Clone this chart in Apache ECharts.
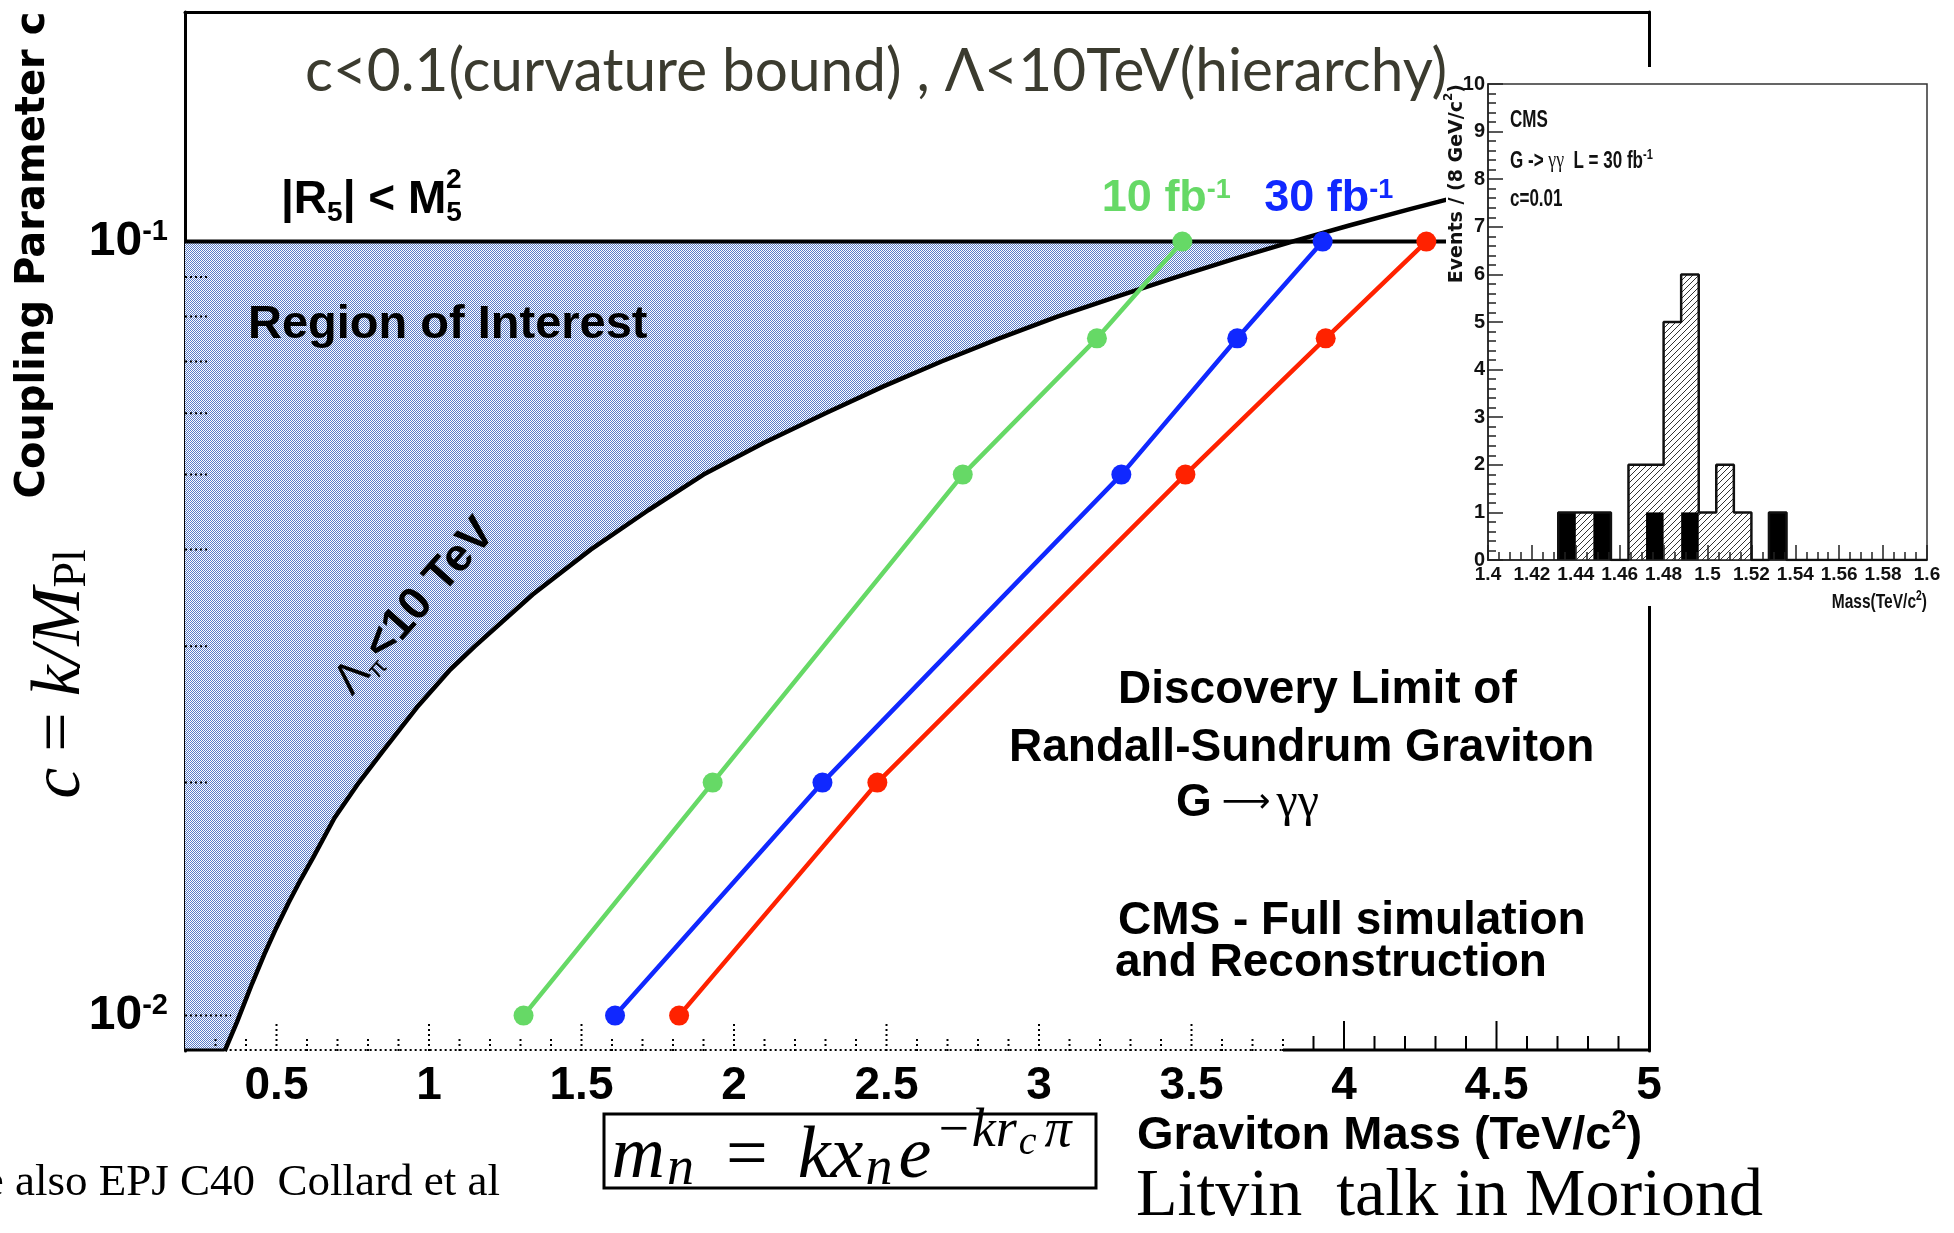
<!DOCTYPE html>
<html>
<head>
<meta charset="utf-8">
<script src="https://cdn.jsdelivr.net/npm/echarts@6/dist/echarts.min.js"></script>
<style>
  html, body { margin: 0; padding: 0; background: #fff; }
  #chart { width: 1954px; height: 1233px; }
</style>
</head>
<body>
<div id="chart"></div>
<script>
// ---- Discovery reach for G -> gamma gamma (graviton mass in TeV vs coupling c) ----
const couplingPoints = [0.01, 0.02, 0.05, 0.075, 0.1];
const massReach10 = [1.31, 1.93, 2.75, 3.19, 3.47];
const massReach30 = [1.61, 2.29, 3.27, 3.65, 3.93];
const massReach60 = [1.82, 2.47, 3.48, 3.94, 4.27];
const lumiNames = ['10 fb', '30 fb', ''];

// Lambda_pi < 10 TeV boundary
const lambdaMass = [0.33, 0.37, 0.42, 0.46, 0.50, 0.54, 0.58, 0.62, 0.69, 0.77, 0.85, 0.96, 1.07, 1.15, 1.34, 1.53,
                    1.72, 1.90, 2.10, 2.30, 2.49, 2.68, 2.87, 3.06, 3.26, 3.45, 3.64, 3.83, 4.02, 4.21, 4.40];
const lambdaC    = [0.009, 0.0098, 0.011, 0.012, 0.013, 0.014, 0.015, 0.016, 0.018, 0.020, 0.022, 0.025, 0.028, 0.030, 0.035, 0.040,
                    0.045, 0.050, 0.055, 0.060, 0.065, 0.070, 0.075, 0.080, 0.085, 0.090, 0.095, 0.100, 0.105, 0.110, 0.115];
const curvatureBound = 0.1;

// main axes
const massRange = [0.2, 5];
const couplingRange = [0.009, 0.198];
const massLabels = [0.5, 1, 1.5, 2, 2.5, 3, 3.5, 4, 4.5, 5];
const massMinor = [0.3, 0.4, 0.6, 0.7, 0.8, 0.9, 1.1, 1.2, 1.3, 1.4, 1.6, 1.7, 1.8, 1.9, 2.1, 2.2, 2.3, 2.4,
                   2.6, 2.7, 2.8, 2.9, 3.1, 3.2, 3.3, 3.4, 3.6, 3.7, 3.8, 3.9, 4.1, 4.2, 4.3, 4.4, 4.6, 4.7, 4.8, 4.9];
const couplingMajor = [0.01, 0.1];
const couplingMinor = [0.02, 0.03, 0.04, 0.05, 0.06, 0.07, 0.08, 0.09];

// inset: reconstructed diphoton mass, 8 GeV bins starting at 1.4 TeV
const binStart = 1.4;
const binWidth = 0.008;
const totalCounts      = [0, 0, 0, 0, 1, 1, 1, 0, 2, 2, 5, 6, 1, 2, 1, 0, 1, 0, 0, 0, 0, 0, 0, 0, 0];
const backgroundCounts = [0, 0, 0, 0, 1, 0, 1, 0, 0, 1, 0, 1, 0, 0, 0, 0, 1, 0, 0, 0, 0, 0, 0, 0, 0];
const insetMassRange = [1.4, 1.6];
const insetEventRange = [0, 10];

// ---- styling ----
const ROOT = "'Liberation Sans', Arial, sans-serif";
const WIDE = "'DejaVu Sans', 'Liberation Sans', sans-serif";
const SERIF = "'Liberation Serif', 'DejaVu Serif', serif";
const lumiColors = ['#66d966', '#1028ff', '#ff2200'];
const labelShift = [-16, 6, 0];
const DOT = [2, 3];
const dottedUntil = 3.8;      // bottom axis is dotted up to here
const solidBottomEnd = 0.33;  // short solid piece at the left corner
const NARROW_X = 0.74;        // horizontal squeeze for the condensed inset lettering

function makeChecker() {
  const c = document.createElement('canvas');
  c.width = 2; c.height = 2;
  const g = c.getContext('2d');
  g.fillStyle = '#ffffff'; g.fillRect(0, 0, 2, 2);
  g.fillStyle = '#5a7cc8'; g.fillRect(0, 0, 1, 1); g.fillRect(1, 1, 1, 1);
  return { image: c, repeat: 'repeat' };
}
function makeHatch() {
  const s = 6;
  const c = document.createElement('canvas');
  c.width = s; c.height = s;
  const g = c.getContext('2d');
  g.fillStyle = '#ffffff'; g.fillRect(0, 0, s, s);
  g.strokeStyle = '#333'; g.lineWidth = 1;
  g.beginPath();
  g.moveTo(0, s); g.lineTo(s, 0);
  g.moveTo(-s / 2, s / 2); g.lineTo(s / 2, -s / 2);
  g.moveTo(s / 2, s * 1.5); g.lineTo(s * 1.5, s / 2);
  g.stroke();
  return { image: c, repeat: 'repeat' };
}
const checker = makeChecker();
const hatch = makeHatch();

const chart = echarts.init(document.getElementById('chart'), null, { renderer: 'canvas', width: 1954, height: 1233 });

// discovery curves
const reachSets = [massReach10, massReach30, massReach60];
const reachSeries = reachSets.map((masses, k) => ({
  type: 'line',
  xAxisIndex: 0, yAxisIndex: 0,
  z: 6,
  silent: true,
  symbol: 'circle',
  symbolSize: 20,
  color: lumiColors[k],
  lineStyle: { color: lumiColors[k], width: 4.5 },
  data: masses.map((m, i) => {
    const item = { value: [m, couplingPoints[i]] };
    if (i === masses.length - 1 && lumiNames[k]) {
      item.label = {
        show: true, position: 'top', distance: 11, offset: [labelShift[k], 0],
        formatter: '{n|' + lumiNames[k] + '}{s|-1}',
        rich: {
          n: { fontFamily: ROOT, fontWeight: 'bold', fontSize: 45, lineHeight: 44, color: lumiColors[k] },
          s: { fontFamily: ROOT, fontWeight: 'bold', fontSize: 27, lineHeight: 22, verticalAlign: 'top', color: lumiColors[k] }
        }
      };
    }
    return item;
  })
}));

// ticks drawn inside the main frame
function tickSeries(values, horizontal, len, dottedLimit) {
  return {
    type: 'custom', xAxisIndex: 0, yAxisIndex: 0, z: 3, silent: true,
    data: values.map(v => horizontal ? [massRange[0], v] : [v, couplingRange[0]]),
    renderItem: (params, api) => {
      const p = api.coord([api.value(0), api.value(1)]);
      const v = horizontal ? api.value(1) : api.value(0);
      const dotted = dottedLimit === undefined ? true : v <= dottedLimit + 1e-9;
      return {
        type: 'line',
        shape: horizontal ? { x1: p[0], y1: p[1], x2: p[0] + len, y2: p[1] }
                          : { x1: p[0], y1: p[1], x2: p[0], y2: p[1] - len },
        style: { stroke: '#000', lineWidth: 2, lineDash: dotted ? DOT : null }
      };
    }
  };
}

function histSeries(counts, fill, z) {
  return {
    type: 'custom', xAxisIndex: 2, yAxisIndex: 2, z: z, silent: true,
    encode: { x: [0, 1], y: 2 },
    data: counts.map((n, k) => [binStart + k * binWidth, binStart + (k + 1) * binWidth, n]),
    renderItem: (params, api) => {
      const n = api.value(2);
      if (!n) return;
      const p0 = api.coord([api.value(0), n]);
      const p1 = api.coord([api.value(1), 0]);
      return { type: 'rect', shape: { x: p0[0], y: p0[1], width: p1[0] - p0[0], height: p1[1] - p0[1] }, style: { fill: fill } };
    }
  };
}

const option = {
  animation: false,
  backgroundColor: '#ffffff',
  grid: [
    { left: 185, top: 12, width: 1464, height: 1039 },
    { left: 1488, top: 84, width: 439, height: 476, show: true, z: 110,
      backgroundColor: '#ffffff', borderColor: '#333', borderWidth: 1.5 }
  ],
  xAxis: [
    { gridIndex: 0, type: 'value', min: massRange[0], max: massRange[1],
      axisLine: { show: false }, axisTick: { show: false }, splitLine: { show: false },
      axisLabel: { customValues: massLabels, formatter: v => String(v), margin: 12,
        fontFamily: ROOT, fontWeight: 'bold', fontSize: 46, color: '#000' } },
    { gridIndex: 0, type: 'value', position: 'top', min: massRange[0], max: massRange[1],
      axisLine: { show: true, onZero: false, lineStyle: { color: '#000', width: 3 } },
      axisTick: { show: false }, axisLabel: { show: false }, splitLine: { show: false } },
    { gridIndex: 1, type: 'value', min: insetMassRange[0], max: insetMassRange[1], interval: 0.02, z: 112,
      axisLine: { show: true, onZero: false, lineStyle: { color: '#222', width: 1.5 } },
      axisTick: { show: true, inside: true, length: 15, lineStyle: { color: '#222', width: 1.5 } },
      minorTick: { show: true, splitNumber: 4, length: 8, lineStyle: { color: '#222', width: 1.5 } },
      splitLine: { show: false },
      axisLabel: { formatter: v => String(+v.toFixed(2)), margin: 5, fontFamily: ROOT, fontWeight: 'bold', fontSize: 19, color: '#111' } }
  ],
  yAxis: [
    { gridIndex: 0, type: 'log', min: couplingRange[0], max: couplingRange[1],
      axisLine: { show: true, onZero: false, lineStyle: { color: '#000', width: 3 } },
      axisTick: { show: false }, splitLine: { show: false }, minorTick: { show: false },
      axisLabel: {
        margin: 17,
        formatter: v => {
          const e = Math.log10(v), r = Math.round(e);
          return Math.abs(e - r) < 1e-6 ? '{b|10}{s|' + r + '}' : '';
        },
        rich: {
          b: { fontFamily: ROOT, fontWeight: 'bold', fontSize: 48, lineHeight: 48, color: '#000' },
          s: { fontFamily: ROOT, fontWeight: 'bold', fontSize: 29, lineHeight: 24, verticalAlign: 'top', color: '#000' }
        }
      } },
    { gridIndex: 0, type: 'value', position: 'right', min: 0, max: 1,
      axisLine: { show: true, onZero: false, lineStyle: { color: '#000', width: 3 } },
      axisTick: { show: false }, axisLabel: { show: false }, splitLine: { show: false } },
    { gridIndex: 1, type: 'value', min: insetEventRange[0], max: insetEventRange[1], interval: 1, z: 112,
      axisLine: { show: true, onZero: false, lineStyle: { color: '#222', width: 1.5 } },
      axisTick: { show: true, inside: true, length: 15, lineStyle: { color: '#222', width: 1.5 } },
      minorTick: { show: true, splitNumber: 5, length: 8, lineStyle: { color: '#222', width: 1.5 } },
      splitLine: { show: false },
      axisLabel: { margin: 3, fontFamily: ROOT, fontWeight: 'bold', fontSize: 20, color: '#111' } }
  ],
  series: [
    // shaded region of interest: left of the Lambda boundary and below the curvature bound
    {
      type: 'custom', xAxisIndex: 0, yAxisIndex: 0, z: 1, silent: true,
      data: [[lambdaMass[0], lambdaC[0]]],
      renderItem: (params, api) => {
        const pts = [api.coord([massRange[0], couplingRange[0]])];
        lambdaMass.forEach((m, i) => { if (lambdaC[i] <= curvatureBound) pts.push(api.coord([m, lambdaC[i]])); });
        pts.push(api.coord([massRange[0], curvatureBound]));
        return { type: 'polygon', shape: { points: pts }, style: { fill: checker } };
      }
    },
    // bottom frame edge: solid corner, dotted middle, solid right part
    {
      type: 'custom', xAxisIndex: 0, yAxisIndex: 0, z: 3, silent: true,
      data: [[massRange[0], couplingRange[0]]],
      renderItem: (params, api) => {
        const a = api.coord([massRange[0], couplingRange[0]]);
        const b = api.coord([solidBottomEnd, couplingRange[0]]);
        const c = api.coord([dottedUntil, couplingRange[0]]);
        const d = api.coord([massRange[1], couplingRange[0]]);
        const y = a[1] - 1;
        return { type: 'group', children: [
          { type: 'line', shape: { x1: a[0], y1: y, x2: b[0], y2: y }, style: { stroke: '#000', lineWidth: 3 } },
          { type: 'line', shape: { x1: b[0], y1: y, x2: c[0], y2: y }, style: { stroke: '#000', lineWidth: 2, lineDash: DOT } },
          { type: 'line', shape: { x1: c[0], y1: y, x2: d[0] + 1.5, y2: y }, style: { stroke: '#000', lineWidth: 3 } }
        ] };
      }
    },
    tickSeries(couplingMajor, true, 46),
    tickSeries(couplingMinor, true, 25),
    tickSeries(massLabels, false, 30, dottedUntil),
    tickSeries(massMinor, false, 15, dottedUntil),
    {
      type: 'line', xAxisIndex: 0, yAxisIndex: 0, z: 4, silent: true, symbol: 'none',
      lineStyle: { color: '#000', width: 4.5 },
      data: lambdaMass.map((m, i) => [m, lambdaC[i]])
    },
    {
      type: 'line', xAxisIndex: 0, yAxisIndex: 0, z: 4, silent: true, symbol: 'none',
      lineStyle: { color: '#000', width: 4 },
      data: [[massRange[0], curvatureBound], [massRange[1], curvatureBound]]
    },
    ...reachSeries,
    // inset: total (hatched) and background (black) histograms
    histSeries(totalCounts, hatch, 111),
    histSeries(backgroundCounts, '#000', 112),
    {
      type: 'line', xAxisIndex: 2, yAxisIndex: 2, z: 113, silent: true, symbol: 'none', step: 'end',
      lineStyle: { color: '#111', width: 2.5 },
      data: (() => {
        const first = totalCounts.findIndex(n => n > 0);
        const pts = [[binStart + first * binWidth, 0]];
        for (let k = first; k < totalCounts.length; k++) pts.push([binStart + k * binWidth, totalCounts[k]]);
        pts.push([binStart + totalCounts.length * binWidth, 0]);
        return pts;
      })()
    }
  ],
  graphic: [
    { type: 'text', x: 305, y: 72, z: 20, scaleX: 0.975, style: { text: 'c<0.1(curvature bound) , Λ<10TeV(hierarchy)',
      font: 'normal 60px Lato, "Open Sans", sans-serif', fill: '#3b3b2f', align: 'left', verticalAlign: 'middle' } },
    { type: 'text', x: 281, y: 202, z: 20, style: {
      text: '{b||R}{sb|5}{b|| < M}{sb|5}', align: 'left', verticalAlign: 'middle',
      rich: {
        b: { fontFamily: ROOT, fontWeight: 'bold', fontSize: 46, lineHeight: 50, verticalAlign: 'top', fill: '#000' },
        sb: { fontFamily: ROOT, fontWeight: 'bold', fontSize: 28, lineHeight: 28, verticalAlign: 'bottom', fill: '#000' }
      } } },
    { type: 'text', x: 446, y: 180, z: 20, style: { text: '2', font: 'bold 28px ' + ROOT, fill: '#000', align: 'left', verticalAlign: 'middle' } },
    { type: 'text', x: 248, y: 325, z: 20, style: { text: 'Region of Interest', font: 'bold 47px ' + ROOT, fill: '#000', align: 'left', verticalAlign: 'middle' } },
    { type: 'text', x: 415, y: 607, z: 20, rotation: 48.6 * Math.PI / 180, style: {
      text: '{l|Λ}{p|π}{b|<10 TeV}', align: 'center', verticalAlign: 'middle',
      rich: {
        l: { fontFamily: ROOT, fontSize: 44, lineHeight: 50, fill: '#000' },
        p: { fontFamily: ROOT, fontSize: 24, lineHeight: 26, verticalAlign: 'bottom', fill: '#000' },
        b: { fontFamily: ROOT, fontWeight: 'bold', fontSize: 46, lineHeight: 50, fill: '#000' }
      } } },
    { type: 'text', x: 1118, y: 690, z: 20, style: { text: 'Discovery Limit of', font: 'bold 46px ' + ROOT, fill: '#000', align: 'left', verticalAlign: 'middle' } },
    { type: 'text', x: 1009, y: 748, z: 20, style: { text: 'Randall-Sundrum Graviton', font: 'bold 46px ' + ROOT, fill: '#000', align: 'left', verticalAlign: 'middle' } },
    { type: 'text', x: 1176, y: 803, z: 20, style: {
      text: '{b|G}{a|⟶}{s|γγ}', align: 'left', verticalAlign: 'middle',
      rich: {
        b: { fontFamily: ROOT, fontWeight: 'bold', fontSize: 46, fill: '#000' },
        a: { fontFamily: WIDE, fontSize: 34, fill: '#000', padding: [0, 6, 0, 10] },
        s: { fontFamily: SERIF, fontSize: 48, fill: '#000' }
      } } },
    { type: 'text', x: 1118, y: 921, z: 20, style: { text: 'CMS - Full simulation', font: 'bold 46px ' + ROOT, fill: '#000', align: 'left', verticalAlign: 'middle' } },
    { type: 'text', x: 1115, y: 963, z: 20, style: { text: 'and Reconstruction', font: 'bold 46px ' + ROOT, fill: '#000', align: 'left', verticalAlign: 'middle' } },
    { type: 'text', x: 1137, y: 1134, z: 20, style: {
      text: '{b|Graviton Mass (TeV/c}{s|2}{b|)}', align: 'left', verticalAlign: 'middle',
      rich: {
        b: { fontFamily: ROOT, fontWeight: 'bold', fontSize: 47, lineHeight: 52, verticalAlign: 'bottom', fill: '#000' },
        s: { fontFamily: ROOT, fontWeight: 'bold', fontSize: 27, lineHeight: 26, verticalAlign: 'top', fill: '#000' }
      } } },
    // axis titles on the left
    { type: 'text', x: 34, y: 255, z: 20, rotation: Math.PI / 2, style: {
      text: 'Coupling Parameter c', font: 'bold 40px ' + WIDE, fill: '#000', align: 'center', verticalAlign: 'middle' } },
    { type: 'text', x: 61, y: 674, z: 20, rotation: Math.PI / 2, style: {
      text: '{i|c}{r|=}{i|k/M}{s|Pl}', align: 'center', verticalAlign: 'middle',
      rich: {
        i: { fontFamily: SERIF, fontStyle: 'italic', fontSize: 70, lineHeight: 84, height: 84, fill: '#000' },
        r: { fontFamily: SERIF, fontSize: 70, lineHeight: 84, height: 84, fill: '#000', padding: [0, 16, 0, 16] },
        s: { fontFamily: SERIF, fontSize: 46, lineHeight: 60, height: 60, verticalAlign: 'bottom', fill: '#000' }
      } } },
    // mass formula in a box
    { type: 'rect', z: 20, shape: { x: 604, y: 1114, width: 492, height: 74 }, style: { fill: 'none', stroke: '#000', lineWidth: 3 } },
    { type: 'text', x: 842, y: 1158, z: 21, style: {
      text: '{i|m}{sb|n}{r|=}{i|kx}{sb|n}{i|e}{sp|−kr}{ss|c}{sp|π}', align: 'center', verticalAlign: 'middle',
      rich: {
        i: { fontFamily: SERIF, fontStyle: 'italic', fontSize: 74, lineHeight: 96, height: 96, fill: '#000' },
        r: { fontFamily: SERIF, fontSize: 74, lineHeight: 96, height: 96, fill: '#000', padding: [0, 30, 0, 26] },
        sb: { fontFamily: SERIF, fontStyle: 'italic', fontSize: 54, lineHeight: 72, height: 72, verticalAlign: 'bottom', fill: '#000', padding: [0, 6, 0, 2] },
        sp: { fontFamily: SERIF, fontStyle: 'italic', fontSize: 54, lineHeight: 44, height: 44, verticalAlign: 'top', fill: '#000', padding: [0, 1, 0, 4] },
        ss: { fontFamily: SERIF, fontStyle: 'italic', fontSize: 40, lineHeight: 66, height: 66, verticalAlign: 'top', fill: '#000', padding: [0, 4, 0, 1] }
      } } },
    { type: 'text', x: 500, y: 1183, z: 20, style: { text: 'See also EPJ C40  Collard et al', font: 'normal 45px ' + SERIF, fill: '#000', align: 'right', verticalAlign: 'middle' } },
    { type: 'text', x: 1136, y: 1197, z: 20, style: { text: 'Litvin  talk in Moriond', font: 'normal 68px ' + SERIF, fill: '#000', align: 'left', verticalAlign: 'middle' } },

    // inset panel background and lettering
    { type: 'rect', z: 100, shape: { x: 1446, y: 67, width: 508, height: 539 }, style: { fill: '#ffffff' } },
    { type: 'text', x: 1510, y: 121, z: 120, scaleX: NARROW_X, style: { text: 'CMS', font: 'bold 23px ' + ROOT, fill: '#111', align: 'left', verticalAlign: 'middle' } },
    { type: 'text', x: 1510, y: 160, z: 120, scaleX: NARROW_X, style: {
      text: '{b|G -> }{g|γγ}{b|  L = 30 fb}{s|-1}', align: 'left', verticalAlign: 'middle',
      rich: {
        b: { fontFamily: ROOT, fontWeight: 'bold', fontSize: 23, lineHeight: 26, verticalAlign: 'bottom', fill: '#111' },
        g: { fontFamily: SERIF, fontSize: 24, lineHeight: 26, verticalAlign: 'bottom', fill: '#111' },
        s: { fontFamily: ROOT, fontWeight: 'bold', fontSize: 15, lineHeight: 14, verticalAlign: 'top', fill: '#111' }
      } } },
    { type: 'text', x: 1510, y: 200, z: 120, scaleX: NARROW_X, style: { text: 'c=0.01', font: 'bold 23px ' + ROOT, fill: '#111', align: 'left', verticalAlign: 'middle' } },
    { type: 'text', x: 1455, y: 84, z: 120, rotation: Math.PI / 2, style: {
      text: '{b|Events / (8 GeV/c}{s|2}{b|)}', align: 'right', verticalAlign: 'middle',
      rich: {
        b: { fontFamily: WIDE, fontWeight: 'bold', fontSize: 19, lineHeight: 24, verticalAlign: 'bottom', fill: '#111' },
        s: { fontFamily: WIDE, fontWeight: 'bold', fontSize: 12, lineHeight: 12, verticalAlign: 'top', fill: '#111' }
      } } },
    { type: 'text', x: 1927, y: 601, z: 120, scaleX: NARROW_X, style: {
      text: '{b|Mass(TeV/c}{s|2}{b|)}', align: 'right', verticalAlign: 'middle',
      rich: {
        b: { fontFamily: ROOT, fontWeight: 'bold', fontSize: 21, lineHeight: 24, verticalAlign: 'bottom', fill: '#111' },
        s: { fontFamily: ROOT, fontWeight: 'bold', fontSize: 14, lineHeight: 14, verticalAlign: 'top', fill: '#111' }
      } } }
  ]
};

chart.setOption(option);
</script>
</body>
</html>
